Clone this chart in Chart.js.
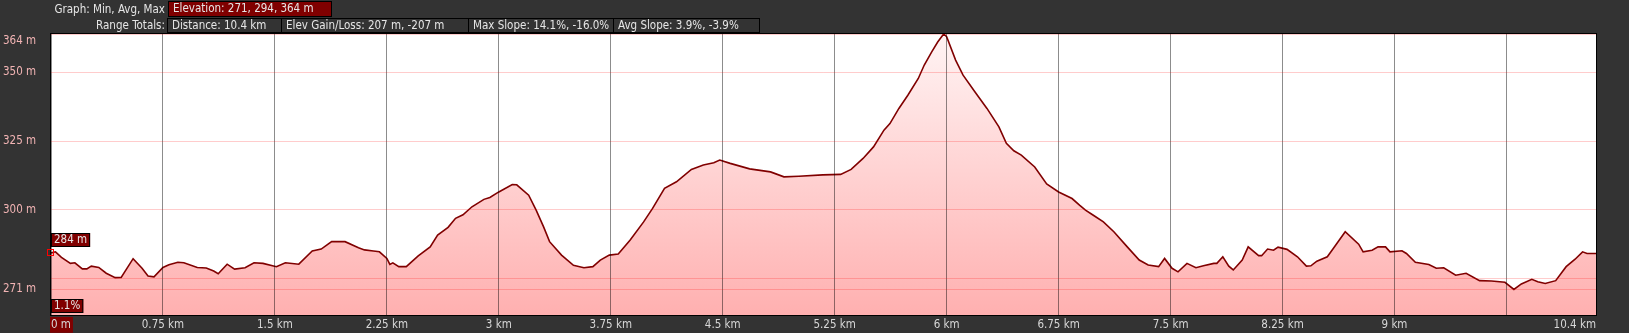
<!DOCTYPE html>
<html>
<head>
<meta charset="utf-8">
<script src="https://cdn.jsdelivr.net/npm/chart.js@4.4.1/dist/chart.umd.min.js"></script>
<style>
  body { margin: 0; background: #333333; }
  #wrap { position: relative; width: 1629px; height: 333px; overflow: hidden;
          font-family: 'DejaVu Sans Condensed', 'DejaVu Sans', sans-serif; font-size: 11.5px; color: #e6e6e6; }
  #chart { position: absolute; left: 0; top: 0; }
  .cap { position: absolute; right: 1464px; white-space: nowrap; line-height: 14px; }
  .box { position: absolute; box-sizing: border-box; border: 1px solid #000; white-space: nowrap;
         padding-left: 4px; line-height: 13px; }
  .row2 { position: absolute; left: 168px; top: 18px; height: 15px; display: flex; }
  .row2 .box { position: static; height: 15px; margin-left: -1px; }
</style>
</head>
<body>
<div id="wrap">
  <canvas id="chart" width="1629" height="333"></canvas>
  <div class="cap" style="top:2px">Graph: Min, Avg, Max</div>
  <div id="elevBox" class="box" style="left:168px; top:1px; width:164px; height:16px; background:#800000"></div>
  <div class="cap" style="top:18px">Range Totals:</div>
  <div class="row2" id="totals"></div>
</div>
<script>
// perfil de elevación (distancia en km, altura en m)
const distKm = [
  0.00, 0.03, 0.07, 0.13, 0.16, 0.21, 0.24, 0.27, 0.32, 0.37, 0.43, 0.47, 0.55, 0.61, 0.65, 0.69,
  0.75, 0.79, 0.85, 0.89, 0.98, 1.04, 1.09, 1.12, 1.18, 1.23, 1.30, 1.36, 1.42, 1.51, 1.57, 1.66,
  1.75, 1.81, 1.88, 1.97, 2.06, 2.10, 2.16, 2.20, 2.25, 2.27, 2.29, 2.33, 2.38, 2.46, 2.54, 2.59,
  2.66, 2.71, 2.76, 2.82, 2.90, 2.94, 3.00, 3.09, 3.12, 3.20, 3.25, 3.30, 3.34, 3.42, 3.50, 3.57,
  3.63, 3.68, 3.74, 3.80, 3.88, 3.97, 4.03, 4.11, 4.19, 4.29, 4.37, 4.44, 4.48, 4.55, 4.68, 4.82,
  4.91, 5.01, 5.17, 5.29, 5.36, 5.44, 5.51, 5.58, 5.62, 5.68, 5.74, 5.81, 5.85, 5.90, 5.94, 5.98,
  6.00, 6.06, 6.11, 6.19, 6.27, 6.35, 6.40, 6.45, 6.50, 6.59, 6.67, 6.75, 6.84, 6.89, 6.93, 6.98,
  7.05, 7.12, 7.21, 7.29, 7.35, 7.42, 7.46, 7.51, 7.55, 7.61, 7.67, 7.72, 7.79, 7.81, 7.85, 7.89,
  7.92, 7.98, 8.02, 8.09, 8.11, 8.15, 8.19, 8.22, 8.28, 8.35, 8.41, 8.44, 8.48, 8.55, 8.59, 8.67,
  8.76, 8.79, 8.85, 8.89, 8.94, 8.97, 9.05, 9.08, 9.14, 9.23, 9.28, 9.33, 9.41, 9.48, 9.57, 9.65,
  9.74, 9.80, 9.85, 9.92, 9.96, 10.01, 10.08, 10.15, 10.21, 10.26, 10.29, 10.35
]
const elevM = [
  284.3, 284.7, 282.7, 280.5, 280.7, 278.5, 278.5, 279.5, 279.0, 276.9, 275.3, 275.4, 282.2, 278.7, 275.9, 275.6,
  279.0, 280.0, 280.9, 280.7, 279.0, 278.8, 277.7, 276.7, 280.2, 278.4, 278.9, 280.7, 280.5, 279.3, 280.7, 280.2,
  285.0, 285.7, 288.4, 288.4, 286.2, 285.4, 285.0, 284.7, 282.3, 280.1, 280.7, 279.3, 279.3, 283.2, 286.5, 290.8,
  293.6, 296.9, 298.2, 301.1, 303.8, 304.5, 306.5, 309.2, 309.1, 305.3, 299.9, 293.8, 288.4, 283.5, 279.8, 278.9,
  279.3, 281.7, 283.5, 283.9, 289.0, 295.6, 300.5, 307.8, 310.2, 314.7, 316.3, 317.1, 318.1, 316.9, 314.9, 313.8,
  312.0, 312.2, 312.7, 312.9, 314.7, 318.7, 322.9, 329.0, 331.4, 336.9, 341.7, 347.8, 352.7, 357.5, 361.1, 364.0,
  363.0, 354.5, 349.0, 342.9, 336.9, 330.2, 324.2, 321.5, 319.9, 315.6, 309.4, 306.5, 304.1, 301.7, 299.9, 298.1,
  295.6, 292.0, 286.5, 281.7, 279.9, 279.3, 282.3, 278.7, 277.4, 280.5, 278.9, 279.6, 280.5, 280.5, 282.9, 279.5,
  278.1, 281.7, 286.5, 283.3, 283.3, 285.7, 285.3, 286.4, 285.6, 282.9, 279.5, 279.6, 281.3, 282.9, 285.9, 292.0,
  287.5, 284.7, 285.3, 286.5, 286.5, 284.7, 285.1, 284.1, 280.9, 280.1, 278.7, 278.9, 276.2, 276.9, 274.2, 274.1,
  273.6, 271.0, 273.0, 274.7, 273.8, 273.2, 274.2, 279.3, 282.0, 284.7, 284.1, 284.1
]

const xTicks = [0, 0.75, 1.5, 2.25, 3, 3.75, 4.5, 5.25, 6, 6.75, 7.5, 8.25, 9, 9.75, 10.35]
const xTickLabels = ['0 m', '0.75 km', '1.5 km', '2.25 km', '3 km', '3.75 km', '4.5 km', '5.25 km',
  '6 km', '6.75 km', '7.5 km', '8.25 km', '9 km', '', '10.4 km']
const yTicks = [271, 275, 300, 325, 350, 364]
const yTickLabels = ['271 m', '', '300 m', '325 m', '350 m', '364 m']

const elevSummary = ['271', '294', '364']
const totals = ['Distance: 10.4 km', 'Elev Gain/Loss: 207 m, -207 m', 'Max Slope: 14.1%, -16.0%', 'Avg Slope: 3.9%, -3.9%']
const totalWidths = [115, 188, 146, 147]
const cursorIndex = 0
const cursorSlope = '1.1%'

document.getElementById('elevBox').textContent = 'Elevation: ' + elevSummary.join(', ') + ' m'
const $totals = document.getElementById('totals')
totals.forEach((t, i) => {
  const d = document.createElement('div')
  d.className = 'box'
  d.style.width = totalWidths[i] + 'px'
  d.textContent = t
  $totals.appendChild(d)
})

const FONT = "'DejaVu Sans Condensed', 'DejaVu Sans', sans-serif"
Chart.defaults.font.family = FONT
Chart.defaults.font.size = 11.5

function etiqueta(ctx, text, x, y) {
  ctx.font = '11.5px ' + FONT
  const w = ctx.measureText(text).width + 6
  ctx.fillStyle = '#800000'
  ctx.fillRect(x, y, w, 14)
  ctx.strokeStyle = '#000'
  ctx.lineWidth = 1
  ctx.strokeRect(x + 0.5, y + 0.5, w - 1, 13)
  ctx.fillStyle = '#e6e6e6'
  ctx.textBaseline = 'middle'
  ctx.textAlign = 'left'
  ctx.fillText(text, x + 3, y + 7.5)
}

const fondoYMarco = {
  id: 'fondoYMarco',
  beforeDraw(chart) {
    const { ctx, chartArea: a } = chart
    ctx.save()
    ctx.fillStyle = '#ffffff'
    ctx.fillRect(a.left, a.top, a.right - a.left, a.bottom - a.top)
    ctx.restore()
  },
  afterDraw(chart) {
    const { ctx, chartArea: a, scales } = chart
    ctx.save()
    ctx.strokeStyle = '#000'
    ctx.lineWidth = 1
    ctx.strokeRect(a.left - 0.5, a.top - 0.5, a.right - a.left + 1, a.bottom - a.top + 1)

    const px = scales.x.getPixelForValue(distKm[cursorIndex])
    const py = scales.y.getPixelForValue(elevM[cursorIndex])
    ctx.strokeStyle = '#ff0000'
    ctx.strokeRect(Math.round(px) - 3.5, Math.round(py) - 3.5, 6, 6)

    etiqueta(ctx, Math.round(elevM[cursorIndex]) + ' m', a.left, Math.round(py) - 20)
    etiqueta(ctx, cursorSlope, a.left, a.bottom - 16)
    ctx.restore()
  }
}

const ctx = document.getElementById('chart').getContext('2d')

new Chart(ctx, {
  type: 'line',
  data: {
    datasets: [{
      data: distKm.map((d, i) => ({ x: d, y: elevM[i] })),
      borderColor: '#800000',
      borderWidth: 1.6,
      pointRadius: 0,
      tension: 0,
      fill: 'start',
      backgroundColor: (c) => {
        const a = c.chart.chartArea
        if (!a) return '#ffc0c0'
        const g = c.chart.ctx.createLinearGradient(0, a.top, 0, a.bottom)
        g.addColorStop(0, '#fff4f4')
        g.addColorStop(1, '#ffb0b0')
        return g
      }
    }]
  },
  options: {
    responsive: false,
    animation: false,
    devicePixelRatio: 1,
    layout: { padding: { top: 34, right: 33, left: 3, bottom: 0 } },
    plugins: {
      legend: { display: false },
      tooltip: { enabled: false }
    },
    scales: {
      x: {
        type: 'linear',
        min: 0,
        max: 10.35,
        afterBuildTicks: (s) => { s.ticks = xTicks.map(v => ({ value: v })) },
        afterFit: (s) => { s.height = 18 },
        border: { display: false },
        grid: { color: 'rgba(0,0,0,0.45)', lineWidth: 1, drawTicks: false, z: 1 },
        ticks: {
          autoSkip: false,
          maxRotation: 0,
          align: 'inner',
          padding: 3,
          color: '#d8d8d8',
          callback: (v, i) => xTickLabels[i],
          showLabelBackdrop: (c) => c.index === 0,
          backdropColor: '#800000',
          backdropPadding: { left: 1, right: 2, top: 1, bottom: 1 }
        }
      },
      y: {
        min: 261.7,
        max: 364,
        afterBuildTicks: (s) => { s.ticks = yTicks.map(v => ({ value: v })) },
        afterFit: (s) => { s.width = 48 },
        border: { display: false },
        grid: { color: 'rgba(255,0,0,0.2)', lineWidth: 1, drawTicks: false, z: 1 },
        ticks: {
          crossAlign: 'far',
          color: '#f2b4b4',
          callback: (v, i) => i === yTicks.length - 1 ? ['', yTickLabels[i]] : yTickLabels[i]
        }
      }
    }
  },
  plugins: [fondoYMarco]
})
</script>
</body>
</html>
